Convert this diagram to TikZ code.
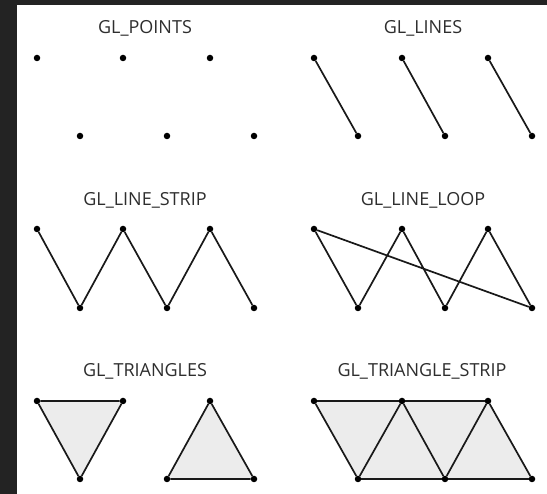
\documentclass[tikz,border=0pt]{standalone}
\usepackage{fontspec}
\setmainfont{Open Sans}
\usepackage{tikz}
\usetikzlibrary{backgrounds}
\definecolor{framecolor}{HTML}{232323}
\definecolor{shadecolor}{HTML}{ECECEC}
\definecolor{labelcolor}{HTML}{2E2E2E}

\begin{document}
\begin{tikzpicture}[
    x=1pt, y=-1pt,
    vertex/.style={circle, fill=black, inner sep=0pt, minimum size=6.5pt},
    edge/.style={draw=black!90, line width=1.7pt},
    shade/.style={fill=shadecolor},
    title/.style={anchor=base, text=labelcolor, font=\fontsize{18}{20}\selectfont}
]
\useasboundingbox (0,0) rectangle (547,494);
\begin{scope}[on background layer]
\fill[framecolor] (0,0) rectangle (547,494);
\fill[white] (17,5) rectangle (547,494);
\end{scope}

% points
\node[title] (tp) at (145,34) {GL\_POINTS};
\node[vertex] (p1) at (37,58) {};
\node[vertex] (p2) at (80,136) {};
\node[vertex] (p3) at (123,58) {};
\node[vertex] (p4) at (167,136) {};
\node[vertex] (p5) at (210,58) {};
\node[vertex] (p6) at (254,136) {};

% lines
\node[title] (tl) at (423,34) {GL\_LINES};
\node[vertex] (l1) at (314,58) {};
\node[vertex] (l2) at (358,136) {};
\node[vertex] (l3) at (402,58) {};
\node[vertex] (l4) at (445,136) {};
\node[vertex] (l5) at (488,58) {};
\node[vertex] (l6) at (532,136) {};
\draw[edge] (l1) -- (l2);
\draw[edge] (l3) -- (l4);
\draw[edge] (l5) -- (l6);

% line strip
\node[title] (ts) at (145,206) {GL\_LINE\_STRIP};
\node[vertex] (s1) at (37,229) {};
\node[vertex] (s2) at (80,308) {};
\node[vertex] (s3) at (123,229) {};
\node[vertex] (s4) at (167,308) {};
\node[vertex] (s5) at (210,229) {};
\node[vertex] (s6) at (254,308) {};
\draw[edge] (s1) -- (s2) -- (s3) -- (s4) -- (s5) -- (s6);

% line loop
\node[title] (to) at (423,206) {GL\_LINE\_LOOP};
\node[vertex] (o1) at (314,229) {};
\node[vertex] (o2) at (358,308) {};
\node[vertex] (o3) at (402,229) {};
\node[vertex] (o4) at (445,308) {};
\node[vertex] (o5) at (488,229) {};
\node[vertex] (o6) at (532,308) {};
\draw[edge] (o1) -- (o2) -- (o3) -- (o4) -- (o5) -- (o6) -- (o1);

% triangles
\node[title] (tt) at (145,377) {GL\_TRIANGLES};
\node[vertex] (t1) at (37,401) {};
\node[vertex] (t2) at (123,401) {};
\node[vertex] (t3) at (80,479) {};
\node[vertex] (t4) at (210,401) {};
\node[vertex] (t5) at (167,479) {};
\node[vertex] (t6) at (254,479) {};
\begin{scope}[on background layer]
\fill[shade] (t1.center) -- (t2.center) -- (t3.center) -- cycle;
\fill[shade] (t4.center) -- (t5.center) -- (t6.center) -- cycle;
\end{scope}
\draw[edge] (t1) -- (t2) -- (t3) -- (t1);
\draw[edge] (t4) -- (t5) -- (t6) -- (t4);

% triangle strip
\node[title] (tr) at (422,377) {GL\_TRIANGLE\_STRIP};
\node[vertex] (r1) at (314,401) {};
\node[vertex] (r2) at (358,479) {};
\node[vertex] (r3) at (402,401) {};
\node[vertex] (r4) at (445,479) {};
\node[vertex] (r5) at (488,401) {};
\node[vertex] (r6) at (532,479) {};
\begin{scope}[on background layer]
\fill[shade] (r1.center) -- (r5.center) -- (r6.center) -- (r2.center) -- cycle;
\end{scope}
\draw[edge] (r1) -- (r2) -- (r3) -- (r4) -- (r5) -- (r6);
\draw[edge] (r1) -- (r3) -- (r5);
\draw[edge] (r2) -- (r4) -- (r6);
\end{tikzpicture}
\end{document}
